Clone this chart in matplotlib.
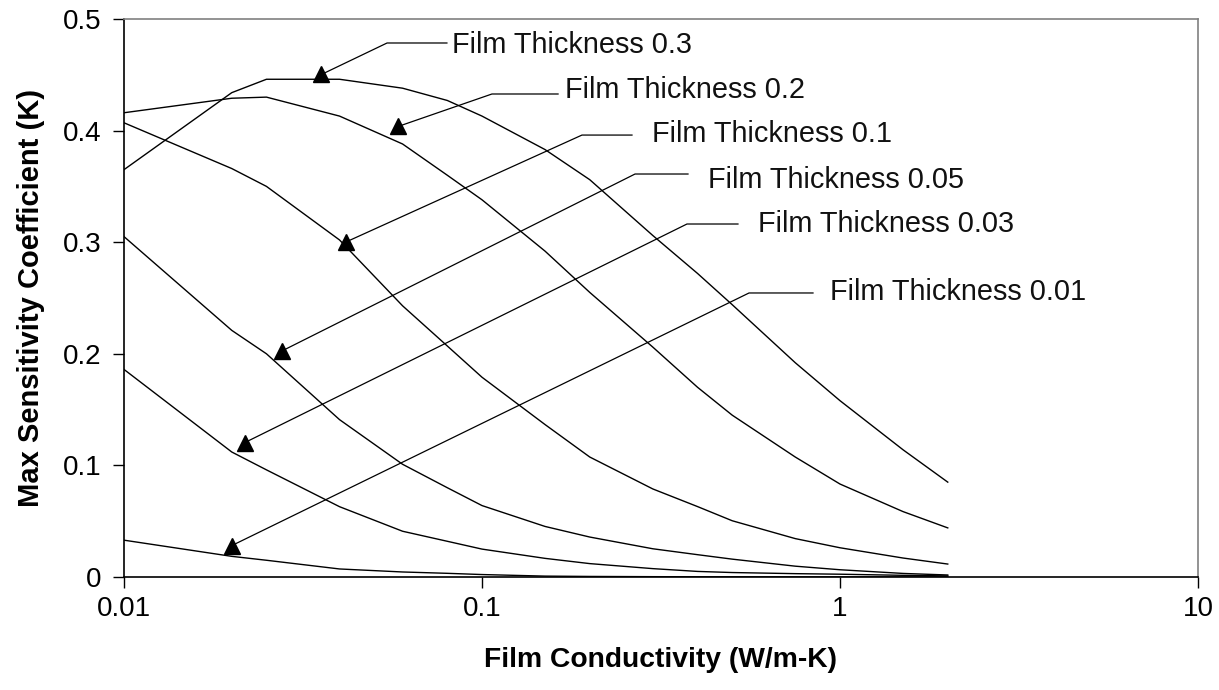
import matplotlib
matplotlib.use("Agg")
import matplotlib.pyplot as plt
from matplotlib.ticker import NullLocator

plt.rcParams['font.family'] = ['Liberation Sans', 'DejaVu Sans']

# film conductivity (W/m-K) sample points
conductivity = [0.01, 0.02, 0.025, 0.04, 0.06, 0.08, 0.1, 0.15, 0.2, 0.3, 0.4, 0.5, 0.75, 1, 1.5, 2]

# max sensitivity coefficient for each film thickness
k_03 = [0.365, 0.434, 0.446, 0.446, 0.438, 0.427, 0.413, 0.383, 0.356, 0.306, 0.272, 0.244, 0.192, 0.158, 0.114, 0.085]
k_02 = [0.416, 0.429, 0.430, 0.413, 0.388, 0.360, 0.338, 0.292, 0.255, 0.206, 0.170, 0.145, 0.1075, 0.0833, 0.0586, 0.044]
k_01 = [0.407, 0.366, 0.350, 0.302, 0.243, 0.207, 0.179, 0.1366, 0.1075, 0.0789, 0.0631, 0.0504, 0.0344, 0.0262, 0.017, 0.0116]
k_005 = [0.305, 0.221, 0.200, 0.141, 0.101, 0.080, 0.064, 0.0453, 0.0358, 0.0253, 0.020, 0.016, 0.0097, 0.0065, 0.0032, 0.0018]
k_003 = [0.186, 0.112, 0.096, 0.063, 0.041, 0.032, 0.025, 0.0167, 0.012, 0.0075, 0.005, 0.004, 0.003, 0.0025, 0.0015, 0.001]
k_001 = [0.033, 0.0185, 0.015, 0.0072, 0.0045, 0.0033, 0.0022, 0.0008, 0.0005, 0.0003, 0.0002, 0.0002, 0.0001, 0.0001, 0.0001, 0.0001]

series = [k_03, k_02, k_01, k_005, k_003, k_001]
labels = ['Film Thickness 0.3', 'Film Thickness 0.2', 'Film Thickness 0.1',
          'Film Thickness 0.05', 'Film Thickness 0.03', 'Film Thickness 0.01']

# callout placement (data coords): arrow tip, bend, end of horizontal, text start
tip_x = [0.0356, 0.0583, 0.0417, 0.0276, 0.02177, 0.02002]
tip_y = [0.4503, 0.4037, 0.3002, 0.2025, 0.1205, 0.0282]
bend_x = [0.0543, 0.1066, 0.1902, 0.2676, 0.3737, 0.557]
hend_x = [0.0798, 0.1631, 0.2624, 0.3762, 0.5188, 0.8406]
lead_y = [0.4785, 0.4328, 0.396, 0.3611, 0.3163, 0.2545]
text_x = [0.0825, 0.1705, 0.2985, 0.4279, 0.590, 0.938]
text_y = [0.4767, 0.4364, 0.397, 0.3557, 0.3163, 0.2554]

fig = plt.figure(figsize=(12.19, 6.90), dpi=100)
ax = fig.add_axes([124/1219, 113/690, 1074/1219, 558/690])

for vals in series:
    ax.plot(conductivity, vals, color='black', lw=1.0, zorder=2)

for i in range(len(labels)):
    ax.plot([hend_x[i], bend_x[i], tip_x[i]], [lead_y[i], lead_y[i], tip_y[i]],
            color='black', lw=0.9, zorder=3)
    ax.plot(tip_x[i], tip_y[i], marker='^', ms=12, color='black', zorder=4)
    ax.text(text_x[i], text_y[i], labels[i], fontsize=20.8, ha='left', va='center',
            color='#111111')

ax.set_xscale('log')
ax.set_xlim(0.01, 10)
ax.set_ylim(0, 0.5)
ax.set_xticks([0.01, 0.1, 1, 10])
ax.set_xticklabels(['0.01', '0.1', '1', '10'])
ax.xaxis.set_minor_locator(NullLocator())
ax.set_yticks([0, 0.1, 0.2, 0.3, 0.4, 0.5])
ax.set_yticklabels(['0', '0.1', '0.2', '0.3', '0.4', '0.5'])
ax.tick_params(direction='out', length=8, width=1, labelsize=20, color='black')
ax.tick_params(axis='x', pad=6)
ax.tick_params(axis='y', pad=8)

for side in ['left', 'bottom']:
    ax.spines[side].set_color('black')
    ax.spines[side].set_linewidth(1.2)
for side in ['top', 'right']:
    ax.spines[side].set_color('#808080')
    ax.spines[side].set_linewidth(1.2)

ax.set_xlabel('Film Conductivity (W/m-K)', fontsize=20.3, fontweight='bold', labelpad=18)
ax.set_ylabel('Max Sensitivity Coefficient (K)', fontsize=21, fontweight='bold', labelpad=13)

fig.savefig('out.png', dpi=100)
